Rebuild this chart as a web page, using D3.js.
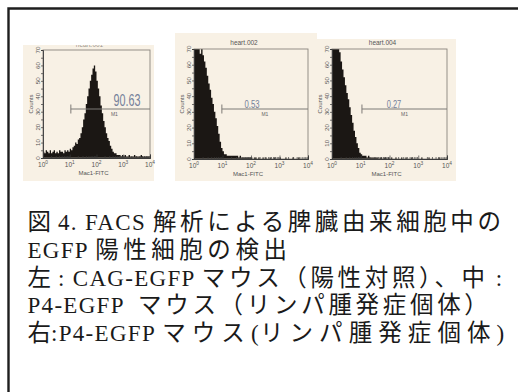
<!DOCTYPE html>
<html><head><meta charset="utf-8">
<script src="https://cdn.jsdelivr.net/npm/d3@7"></script>
<style>body{margin:0;background:#fff}svg{display:block}</style>
</head><body>
<svg id="c" width="518" height="392"></svg>
<script>
// ---------- data ----------
const binStepDecades = 0.05;           // each bin covers 0.05 log10 decades, from 10^0 to 10^4
const cagCounts = [4,3,5,4,3,5,3,4,5,3,4,3,5,4,4,3,5,4,5,4,
  6,5,7,8,10,9,12,13,16,20, 25,29,35,40,45,50,54,58,60,56,
  50,45,40,34,29,24,20,16,13,11, 8,6,4,3,3,2,2,2,1,2,
  1,2,1,1,2,1,1,1,2,1,1,1,1,2,1,1,1,1,1,1];
const heart002Counts = [78,78,78,76,67,74,66,62,58,53,
  48,44,39,35,30,26,21,16,11,7,
  5,3,3,2,2,2,2,2,2,2,
  2,1,2,1,1,1,1,1,1,1,
  1,0,1,1,0,1,0,0,1,0, 1,0,0,1,0,0,1,0,0,0, 1,0,0,0,1,0,0,0,0,1, 0,0,0,1,0,0,0,0,0,0];
const heart004Counts = [78,78,77,78,76,68,62,57,52,47,
  42,38,33,28,23,18,14,10,7,4,
  3,2,2,2,1,2,1,1,1,1,
  1,1,0,1,1,0,1,1,0,1,
  0,1,0,0,1,0,0,0,1,0, 0,1,0,0,0,1,0,0,0,0, 0,0,1,0,0,0,0,1,0,0, 0,0,0,0,1,0,0,0,0,0];
const panelTitles = ["heart.001", "heart.002", "heart.004"];
const gatePercents = ["90.63", "0.53", "0.27"];
const gateStarts = [11, 9.5, 11];
const gateEnd = 10000;
const gateName = "M1";
const yTickValues = [0,10,20,30,40,50,60,70];
const xTickExponents = [0,1,2,3,4];
const yAxisTitle = "Counts";
const xAxisTitle = "Mac1-FITC";
const captionLines = [
  "図 4. FACS 解析による脾臓由来細胞中の",
  "EGFP 陽性細胞の検出",
  "左 : CAG-EGFP マウス（陽性対照）、中 :",
  "P4-EGFP  マウス（リンパ腫発症個体）",
  "右:P4-EGFP マウス(リンパ腫発症個体)"
];

// ---------- layout ----------
const svg = d3.select("#c");
const countsList = [cagCounts, heart002Counts, heart004Counts];
const panels = [
  {bg:[23,45,154,181], plot:[43,50,150,158], labelX:127, labelSize:16, labelLen:27, labelY:106},
  {bg:[175,33,317,181], plot:[194,49,308,159], labelX:252, labelSize:10, labelLen:15, labelY:107.5},
  {bg:[317,39,456,181], plot:[332,49,447,159], labelX:394, labelSize:10, labelLen:14.5, labelY:107.5}
];

// frame
svg.append("path").attr("d","M8.5,392V8.5H518").attr("fill","none")
  .attr("stroke","#1e1e1e").attr("stroke-width",2.4);

const defs = svg.append("defs");
const SANS = "Liberation Sans, Arial, sans-serif";

panels.forEach((p, i) => {
  const [bx0,by0,bx1,by1] = p.bg;
  const [l,t,r,b] = p.plot;
  const g = svg.append("g");
  g.append("rect").attr("x",bx0).attr("y",by0).attr("width",bx1-bx0).attr("height",by1-by0)
    .attr("fill","#f8f1e5");
  const x = d3.scaleLog().domain([1,10000]).range([l,r]);
  const y = d3.scaleLinear().domain([0,70]).range([b,t]);

  defs.append("clipPath").attr("id","clip"+i).append("rect")
    .attr("x",l).attr("y",t).attr("width",r-l).attr("height",b-t);
  defs.append("clipPath").attr("id","bgclip"+i).append("rect")
    .attr("x",bx0).attr("y",by0).attr("width",bx1-bx0).attr("height",by1-by0);

  // title
  g.append("text").attr("x",(l+r)/2 - 7).attr("y", i===0 ? by0+1.5 : t-4)
    .attr("text-anchor","middle").attr("font-family",SANS)
    .attr("font-size",6.5).attr("fill", i===0 ? "#9a948c" : "#555")
    .attr("clip-path","url(#bgclip"+i+")")
    .text(panelTitles[i]);

  // histogram
  const counts = countsList[i];
  const pts = counts.map((c,k)=>({x:Math.pow(10,k*binStepDecades), c}));
  pts.push({x:10000, c:counts[counts.length-1]});
  const area = d3.area().curve(d3.curveStepAfter)
    .x(d=>x(d.x)).y0(y(0)).y1(d=>y(d.c));
  g.append("path").datum(pts).attr("d",area).attr("fill","#1b1714")
    .attr("clip-path","url(#clip"+i+")");

  // box
  g.append("rect").attr("x",l).attr("y",t).attr("width",r-l).attr("height",b-t)
    .attr("fill","none").attr("stroke","#8a857d").attr("stroke-width",0.9);

  // x axis ticks (inside)
  const minor = [];
  for (let e=0;e<4;e++) for (let m=2;m<10;m++) minor.push(m*Math.pow(10,e));
  const xMajor = xTickExponents.map(e=>Math.pow(10,e));
  const xa = g.append("g").attr("transform",`translate(0,${b})`);
  xa.call(d3.axisBottom(x).tickValues(minor).tickSize(-2).tickFormat(""));
  const xb = g.append("g").attr("transform",`translate(0,${b})`);
  xb.call(d3.axisBottom(x).tickValues(xMajor).tickSize(-3.5).tickFormat(""));
  [xa,xb].forEach(s=>{ s.selectAll(".tick line").attr("stroke","#3a3a3a").attr("stroke-width",0.7); s.select(".domain").attr("stroke","#3a3a3a").attr("stroke-width",0.9);});

  // x labels 10^n
  xTickExponents.forEach(e=>{
    const tx = g.append("text").attr("x",x(Math.pow(10,e))).attr("y",b+9)
      .attr("text-anchor","middle").attr("font-family",SANS)
      .attr("font-size",6.5).attr("fill","#555");
    tx.append("tspan").text("10");
    tx.append("tspan").attr("dy",-3).attr("font-size",4.8).text(String(e));
  });
  g.append("text").attr("x",(l+r)/2 - 3).attr("y",b+16.5).attr("text-anchor","middle")
    .attr("font-family",SANS).attr("font-size",6)
    .attr("fill","#555").text(xAxisTitle);

  // y axis
  const ya = g.append("g").attr("transform",`translate(${l},0)`);
  ya.call(d3.axisLeft(y).tickValues(d3.range(0,71,5)).tickSize(2).tickFormat(""));
  ya.selectAll(".tick line").attr("stroke","#3a3a3a").attr("stroke-width",0.7);
  ya.select(".domain").attr("stroke","#3a3a3a").attr("stroke-width",0.9);
  yTickValues.forEach(v=>{
    const lx = l-3.3, ly = y(v);
    g.append("text").attr("x",lx).attr("y",ly).attr("text-anchor","middle")
      .attr("transform",`rotate(-90,${lx},${ly})`)
      .attr("font-family",SANS).attr("font-size",6.2)
      .attr("fill","#555").text(v);
  });
  const cx = l-10.5, cy = (t+b)/2;
  g.append("text").attr("x",cx).attr("y",cy).attr("text-anchor","middle")
    .attr("transform",`rotate(-90,${cx},${cy})`)
    .attr("font-family",SANS).attr("font-size",6)
    .attr("fill","#555").text(yAxisTitle);

  // gate marker
  const gy = 109, gx0 = x(gateStarts[i]), gx1 = x(gateEnd);
  g.append("line").attr("x1",gx0).attr("x2",gx1).attr("y1",gy).attr("y2",gy)
    .attr("stroke","#7d7a76").attr("stroke-width",1);
  g.append("line").attr("x1",gx0).attr("x2",gx0).attr("y1",gy-4.5).attr("y2",gy+4.5)
    .attr("stroke","#7d7a76").attr("stroke-width",1);
  g.append("text").attr("x",p.labelX).attr("y",p.labelY).attr("text-anchor","middle")
    .attr("font-family","Liberation Sans Narrow, Liberation Sans, Arial, sans-serif")
    .attr("font-size",p.labelSize).attr("textLength",p.labelLen).attr("lengthAdjust","spacingAndGlyphs")
    .attr("fill","#74809a").text(gatePercents[i]);
  g.append("text").attr("x",(gx0+gx1)/2 + (i===0?4:0)).attr("y",gy+7).attr("text-anchor","middle")
    .attr("font-family",SANS).attr("font-size",5)
    .attr("fill","#666").text(gateName);
});

// ---------- caption ----------
const capX = 27.5, capY0 = 230, capDy = 27.8;
const capLens = [477, 264, 476, 464, 478];
const CJKRE = /[\u3000-\u30ff\u3400-\u9fff\uff00-\uffef]/;
captionLines.forEach((line, i) => {
  const tx = svg.append("text").attr("x",capX).attr("y",capY0 + i*capDy)
    .attr("fill","#1a1a1a").style("white-space","pre");
  const runs = line.match(/[\u3000-\u30ff\u3400-\u9fff\uff00-\uffef]+|[^\u3000-\u30ff\u3400-\u9fff\uff00-\uffef]+/g);
  const spans = runs.map((run, ri) => {
    const isC = CJKRE.test(run[0]);
    const n = Array.from(run).length;
    const ts = tx.append("tspan")
      .style("font-family", isC ? "'Noto Sans CJK JP', sans-serif" : "'Liberation Serif', 'Times New Roman', serif")
      .style("font-size", (isC ? 23.5 : 23) + "px")
      .style("font-weight", 400)
      .style("letter-spacing", isC ? "0px" : "1.3px")
      .text(run);
    // a lone CJK glyph directly followed by Latin text keeps its natural width
    const track = isC && !(n === 1 && ri < runs.length - 1);
    return {ts, track, n};
  });
  const natural = tx.node().getComputedTextLength();
  const nT = d3.sum(spans.filter(s=>s.track), s=>s.n);
  const extra = (capLens[i] - natural) / Math.max(nT,1);
  spans.filter(s=>s.track).forEach(s => s.ts.style("letter-spacing", extra.toFixed(2)+"px"));
});
</script>
</body></html>
